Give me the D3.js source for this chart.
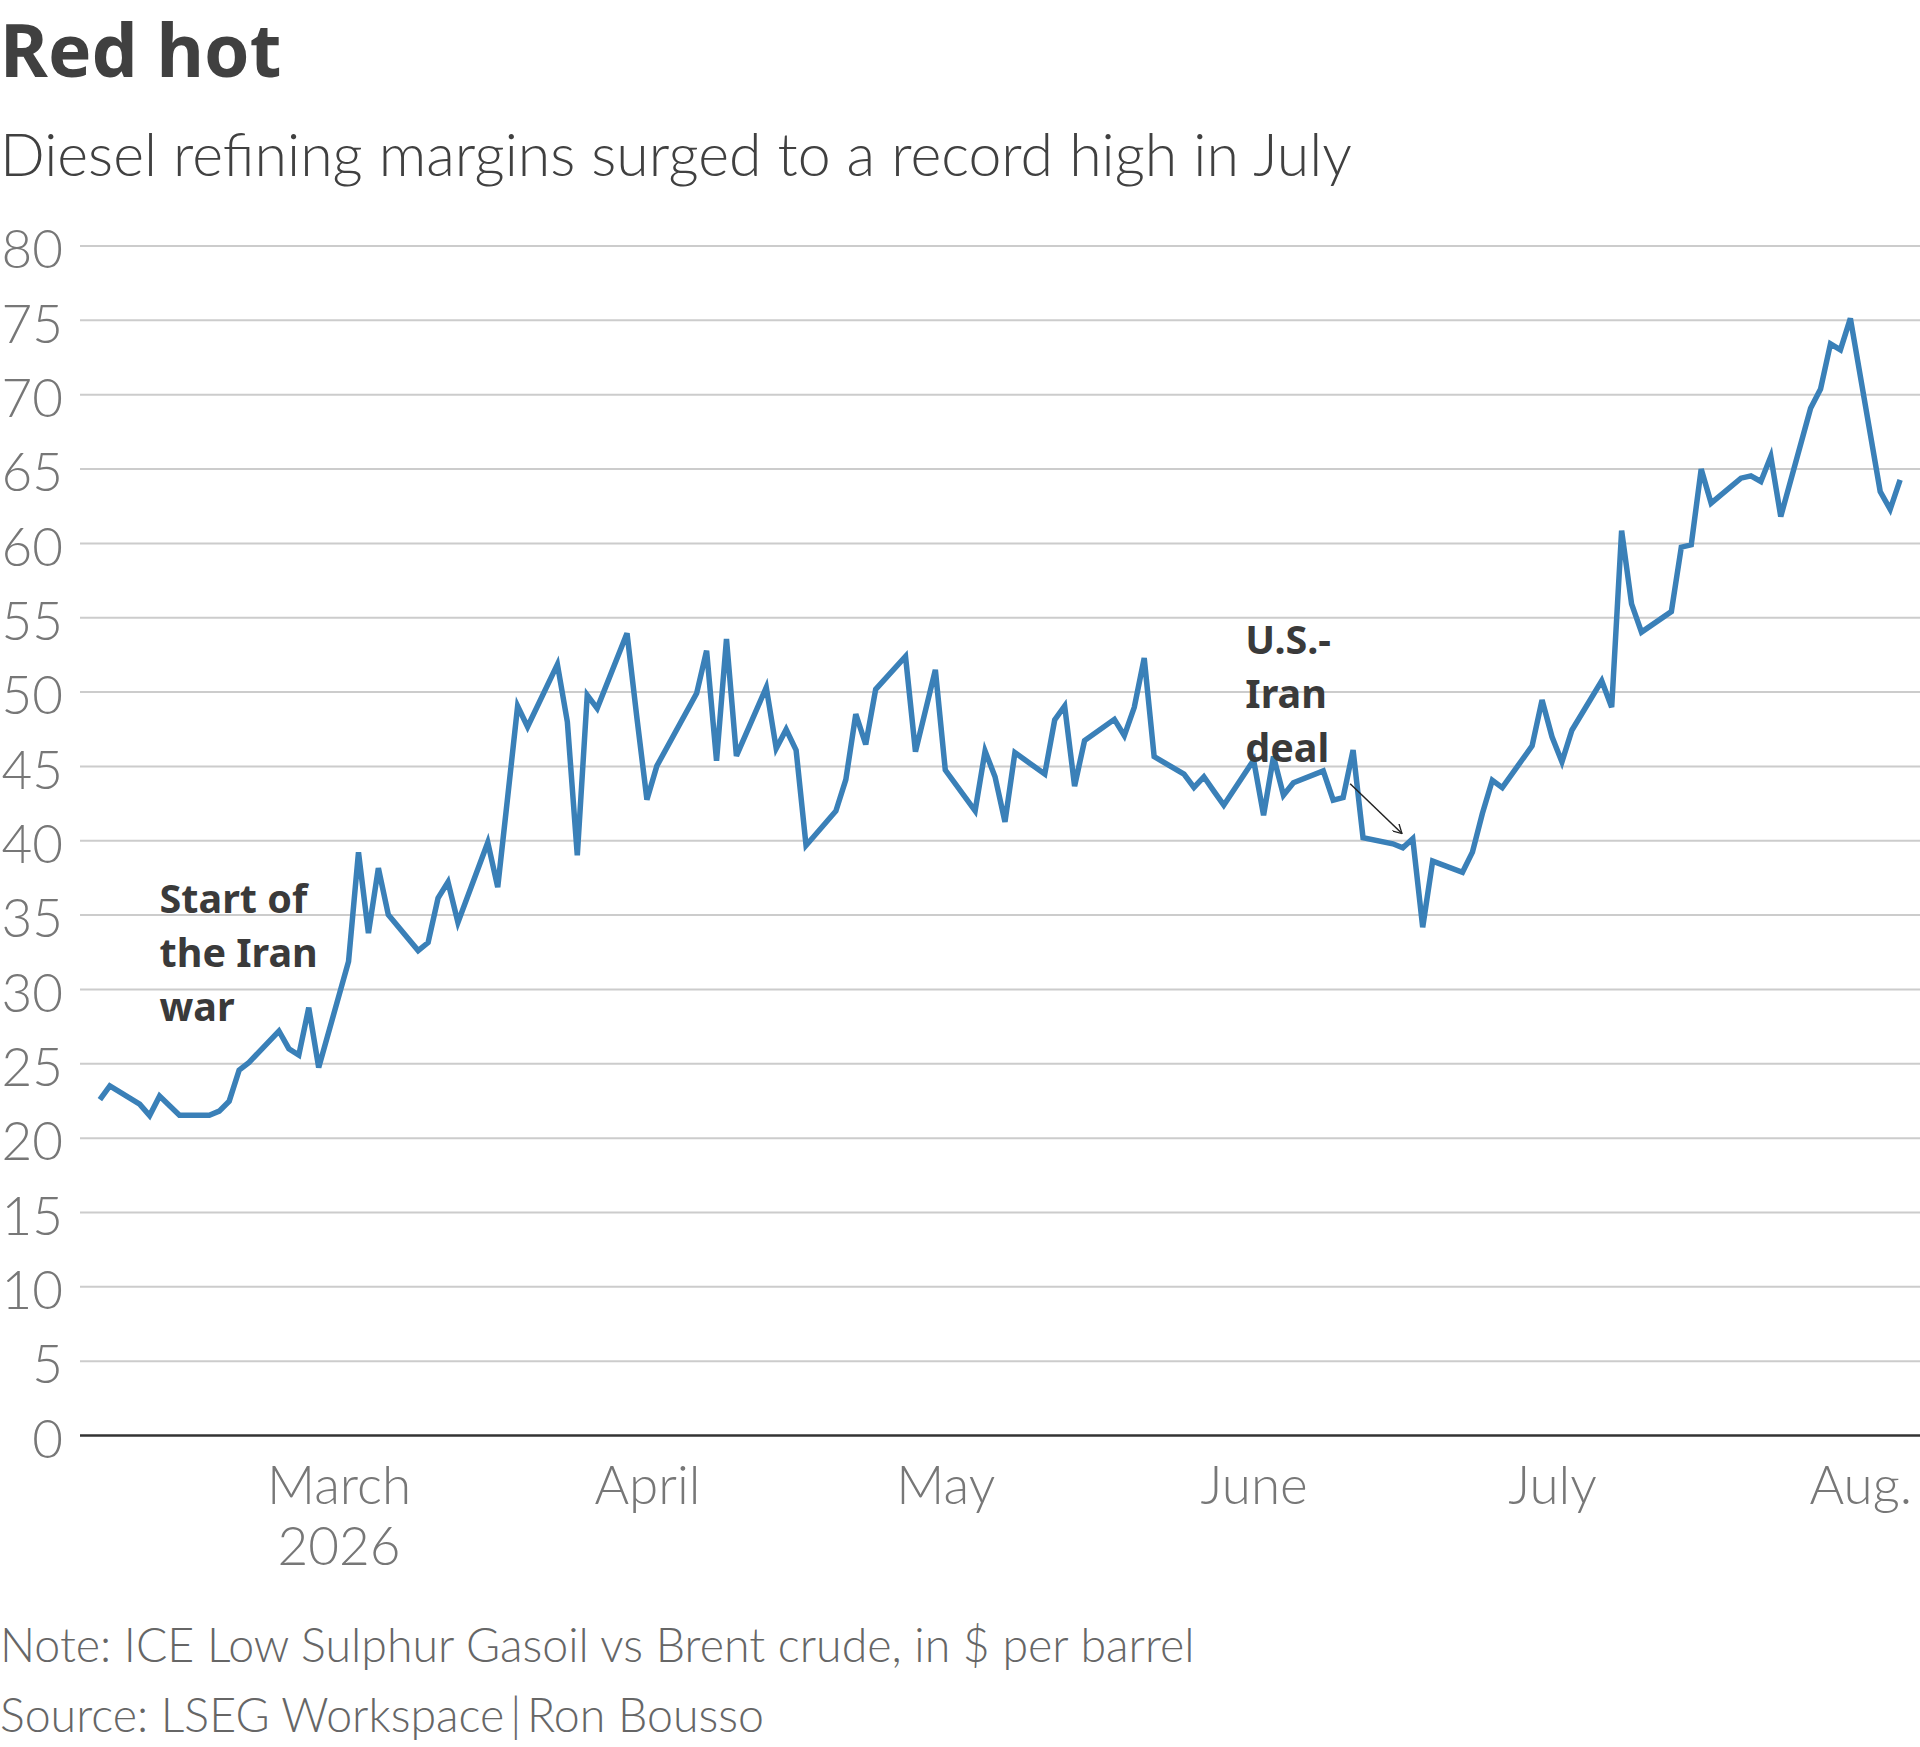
<!DOCTYPE html>
<html>
<head>
<meta charset="utf-8">
<script src="https://cdn.jsdelivr.net/npm/d3@7"></script>
<style>
  body { margin: 0; background: #fff; }
  svg { display: block; }
  .title { font-family: "Noto Sans", sans-serif; font-weight: 700; fill: #404040; }
  .light { font-family: Lato, sans-serif; font-weight: 300; }
  .note { font-family: "Noto Sans", sans-serif; font-weight: 700; fill: #3a3a3a; }
</style>
</head>
<body>
<div id="chart"></div>
<script>
// trading days and diesel crack (ICE gasoil vs Brent), $/bbl
var dates = [
  "2026-02-05","2026-02-06","2026-02-09","2026-02-10","2026-02-11","2026-02-13","2026-02-16","2026-02-17",
  "2026-02-18","2026-02-19","2026-02-20","2026-02-23","2026-02-24","2026-02-25","2026-02-26","2026-02-27",
  "2026-03-02","2026-03-03","2026-03-04","2026-03-05","2026-03-06","2026-03-09","2026-03-10","2026-03-11",
  "2026-03-12","2026-03-13","2026-03-16","2026-03-17","2026-03-18","2026-03-19","2026-03-20","2026-03-23",
  "2026-03-24","2026-03-25","2026-03-26","2026-03-27","2026-03-30","2026-03-31","2026-04-01","2026-04-02",
  "2026-04-06","2026-04-07","2026-04-08","2026-04-09","2026-04-10","2026-04-13","2026-04-14","2026-04-15",
  "2026-04-16","2026-04-17","2026-04-20","2026-04-21","2026-04-22","2026-04-23","2026-04-24","2026-04-27",
  "2026-04-28","2026-04-30","2026-05-01","2026-05-04","2026-05-05","2026-05-06","2026-05-07","2026-05-08",
  "2026-05-11","2026-05-12","2026-05-13","2026-05-14","2026-05-15","2026-05-18","2026-05-19","2026-05-20",
  "2026-05-21","2026-05-22","2026-05-25","2026-05-26","2026-05-27","2026-05-28","2026-05-29","2026-06-01",
  "2026-06-02","2026-06-03","2026-06-04","2026-06-05","2026-06-08","2026-06-09","2026-06-10","2026-06-11",
  "2026-06-12","2026-06-15","2026-06-16","2026-06-17","2026-06-18","2026-06-19","2026-06-22","2026-06-23",
  "2026-06-24","2026-06-25","2026-06-26","2026-06-29","2026-06-30","2026-07-01","2026-07-02","2026-07-03",
  "2026-07-06","2026-07-07","2026-07-08","2026-07-09","2026-07-10","2026-07-13","2026-07-14","2026-07-15",
  "2026-07-16","2026-07-17","2026-07-20","2026-07-21","2026-07-22","2026-07-23","2026-07-24","2026-07-27",
  "2026-07-28","2026-07-29","2026-07-30","2026-07-31","2026-08-03","2026-08-04","2026-08-05"
];
var margins = [
  22.56, 23.48, 22.25, 21.48, 22.79, 21.5, 21.5, 21.78,
  22.45, 24.54, 25.06, 27.17, 25.98, 25.55, 28.74, 24.72,
  31.84, 39.19, 33.75, 38.13, 34.99, 32.58, 33.12, 36.11,
  37.19, 34.47, 39.85, 36.85, 42.9, 49.02, 47.63, 51.83,
  47.97, 38.98, 49.76, 48.87, 53.92, 48.2, 42.73, 45.0,
  49.88, 52.75, 45.34, 53.54, 45.67, 50.28, 46.17, 47.45,
  46.06, 39.65, 41.97, 44.08, 48.48, 46.44, 50.15, 52.36,
  45.96, 51.46, 44.72, 41.98, 46.0, 44.27, 41.24, 45.89,
  44.45, 48.09, 49.03, 43.64, 46.7, 48.13, 47.03, 48.94,
  52.25, 45.62, 44.45, 43.55, 44.27, 43.3, 42.36, 45.39,
  41.68, 45.63, 43.03, 43.87, 44.66, 42.69, 42.87, 46.06,
  40.17, 39.76, 39.49, 40.1, 34.15, 38.6, 37.85, 39.2,
  41.8, 44.03, 43.54, 46.35, 49.43, 46.96, 45.27, 47.4,
  50.73, 48.95, 60.83, 55.9, 54.0, 55.38, 59.71, 59.87,
  64.96, 62.67, 64.35, 64.51, 64.13, 65.81, 61.77, 69.06,
  70.34, 73.39, 72.98, 75.1, 63.45, 62.26, 64.24
];

var yTicks = [0, 5, 10, 15, 20, 25, 30, 35, 40, 45, 50, 55, 60, 65, 70, 75, 80];
var monthTicks = ["2026-03-01", "2026-04-01", "2026-05-01", "2026-06-01", "2026-07-01", "2026-08-01"];
var monthLabels = [["March", "2026"], ["April"], ["May"], ["June"], ["July"], ["Aug."]];

// annotations: [date, value] of first baseline, text lines
var warNote = { at: ["2026-02-11", 35.1], lines: ["Start of", "the Iran", "war"] };
var dealNote = { at: ["2026-05-31T04:00", 52.55], lines: ["U.S.-", "Iran", "deal"] };
var dealArrow = [["2026-06-10T17:00", 43.8], ["2026-06-15T22:00", 40.45]];

var width = 1920, height = 1747;
var plotLeft = 80, plotRight = 1920, plotTop = 245.5, plotBottom = 1435;

var parse = d3.isoParse;
var data = dates.map(function(d, i) { return { date: parse(d), value: margins[i] }; });

var x = d3.scaleTime()
    .domain([parse("2026-02-03"), parse("2026-08-07")])
    .range([plotLeft, plotRight]);

var y = d3.scaleLinear()
    .domain([0, 80])
    .range([plotBottom, plotTop]);

var svg = d3.select("#chart").append("svg")
    .attr("width", width)
    .attr("height", height);

svg.append("text")
    .attr("class", "title")
    .attr("x", 0)
    .attr("y", 77)
    .style("font-size", "73px")
    .text("Red hot");

svg.append("text")
    .attr("class", "light")
    .attr("x", 0)
    .attr("y", 176)
    .style("font-size", "59px")
    .style("fill", "#404040")
    .text("Diesel refining margins surged to a record high in July");

// y axis with gridlines
var yAxis = svg.append("g")
    .attr("transform", "translate(" + plotLeft + ",0)")
    .call(d3.axisLeft(y).tickValues(yTicks).tickSize(-(plotRight - plotLeft)).tickPadding(17));

yAxis.select(".domain").remove();
yAxis.attr("font-family", null).attr("font-size", null);
yAxis.selectAll(".tick line")
    .attr("stroke", function(d) { return d === 0 ? "#333" : "#cccccc"; })
    .attr("stroke-width", function(d) { return d === 0 ? 2.5 : 2; });
yAxis.selectAll(".tick text")
    .attr("class", "light")
    .attr("dy", "0.42em")
    .style("font-size", "53px")
    .style("fill", "#777");

// x axis labels
var xAxis = svg.append("g")
    .attr("transform", "translate(0," + plotBottom + ")")
    .call(d3.axisBottom(x).tickValues(monthTicks.map(parse)).tickSize(0).tickFormat(""));

xAxis.select(".domain").remove();
xAxis.attr("font-family", null).attr("font-size", null);
xAxis.selectAll(".tick text").remove();
xAxis.selectAll(".tick").each(function(d, i) {
    var t = d3.select(this).append("text")
        .attr("class", "light")
        .attr("text-anchor", "middle")
        .style("font-size", "53px")
        .style("fill", "#777");
    monthLabels[i].forEach(function(s, j) {
        t.append("tspan").attr("x", 0).attr("y", 69 + j * 61).text(s);
    });
});

// the line
var line = d3.line()
    .x(function(d) { return x(d.date); })
    .y(function(d) { return y(d.value); });

svg.append("path")
    .datum(data)
    .attr("fill", "none")
    .attr("stroke", "#3a80b8")
    .attr("stroke-width", 5.5)
    .attr("stroke-linejoin", "miter")
    .attr("d", line);

// annotations
[warNote, dealNote].forEach(function(n) {
    var t = svg.append("text")
        .attr("class", "note")
        .style("font-size", "39.5px");
    n.lines.forEach(function(s, j) {
        t.append("tspan")
            .attr("x", x(parse(n.at[0])))
            .attr("y", y(n.at[1]) + j * 54)
            .text(s);
    });
});

svg.append("defs").append("marker")
    .attr("id", "arrow")
    .attr("viewBox", "0 0 10 10")
    .attr("refX", 9).attr("refY", 5)
    .attr("markerWidth", 10).attr("markerHeight", 10)
    .attr("markerUnits", "userSpaceOnUse")
    .attr("orient", "auto")
    .append("path")
    .attr("d", "M0,0 L9,5 L0,10")
    .attr("fill", "none")
    .attr("stroke", "#222")
    .attr("stroke-width", 1.3);

svg.append("line")
    .attr("x1", x(parse(dealArrow[0][0])))
    .attr("y1", y(dealArrow[0][1]))
    .attr("x2", x(parse(dealArrow[1][0])))
    .attr("y2", y(dealArrow[1][1]))
    .attr("stroke", "#222")
    .attr("stroke-width", 1.5)
    .attr("marker-end", "url(#arrow)");

// footnotes
svg.append("text")
    .attr("class", "light")
    .attr("x", 0)
    .attr("y", 1662)
    .style("font-size", "46.5px")
    .style("fill", "#666")
    .text("Note: ICE Low Sulphur Gasoil vs Brent crude, in $ per barrel");

svg.append("text")
    .attr("class", "light")
    .attr("x", 0)
    .attr("y", 1732)
    .style("font-size", "46.5px")
    .style("fill", "#666")
    .text("Source: LSEG Workspace\u2009|\u2009Ron Bousso");
</script>
</body>
</html>
